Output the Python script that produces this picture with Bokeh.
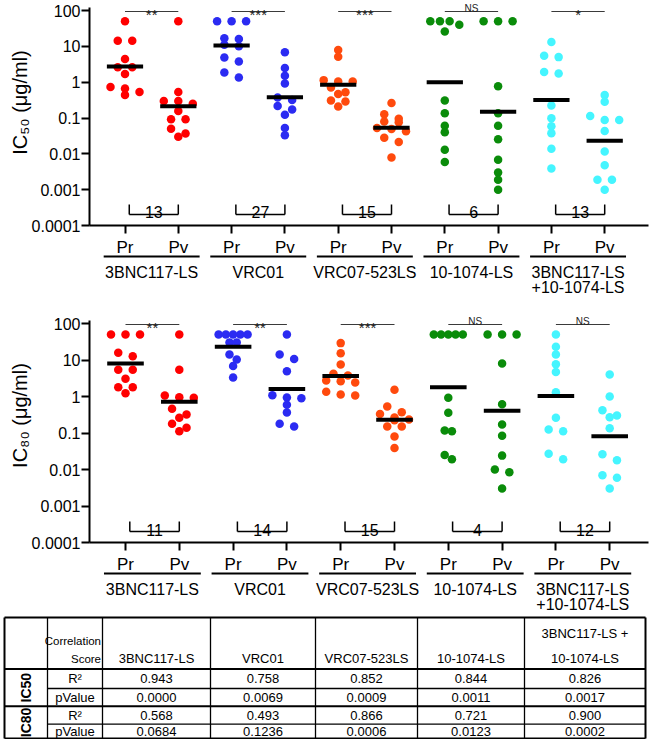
import math
from bokeh.plotting import figure
from bokeh.models import Range1d, FixedTicker, CustomJSTickFormatter
from bokeh.layouts import column
from bokeh.embed import file_html
from bokeh.resources import INLINE
from bokeh.core.properties import value

FONT = "Liberation Sans"

groups = ["3BNC117-LS", "VRC01", "VRC07-523LS", "10-1074-LS", "3BNC117-LS\n+10-1074-LS"]
subgroups = ["Pr", "Pv"]
group_colors = ["#FF0000", "#2B2BF2", "#FF4A0D", "#0A8C0A", "#45F5FF"]
y_ticks = [0.0001, 0.001, 0.01, 0.1, 1, 10, 100]

# ---------------- IC50 (ug/ml) ----------------
ic50_3bnc117_pr = [50, 14.4, 14.4, 4.4, 2.6, 2.6, 1.7, 0.73, 0.67, 0.53, 0.44]
ic50_3bnc117_pv = [50, 0.53, 0.30, 0.30, 0.25, 0.156, 0.092, 0.092, 0.050, 0.037, 0.030]
ic50_vrc01_pr = [50, 50, 50, 16.7, 16, 11.1, 10, 4.9, 3.8, 1.86, 1.35]
ic50_vrc01_pv = [6.8, 2.5, 1.5, 0.92, 0.375, 0.316, 0.215, 0.174, 0.124, 0.053, 0.033]
ic50_vrc07_pr = [7.9, 5.1, 1.14, 1.05, 1.05, 0.71, 0.52, 0.47, 0.31, 0.29, 0.21]
ic50_vrc07_pv = [0.261, 0.128, 0.096, 0.080, 0.076, 0.053, 0.049, 0.043, 0.028, 0.0215, 0.0079]
ic50_101074_pr = [50, 50, 50, 40, 26, 0.31, 0.135, 0.061, 0.040, 0.013, 0.0059]
ic50_101074_pv = [50, 50, 50, 0.77, 0.135, 0.061, 0.0255, 0.0068, 0.003, 0.0019, 0.001]
ic50_combo_pr = [13.2, 5.5, 5.0, 1.93, 1.74, 0.225, 0.098, 0.059, 0.0375, 0.0138, 0.0039]
ic50_combo_pv = [0.435, 0.284, 0.114, 0.088, 0.088, 0.0435, 0.0117, 0.0048, 0.0019, 0.0019, 0.001]
ic50_sig = ["**", "***", "***", "NS", "*"]
ic50_score = [13, 27, 15, 6, 13]

# ---------------- IC80 (ug/ml) ----------------
ic80_3bnc117_pr = [50, 50, 50, 15.7, 12.7, 5.4, 5.4, 3.05, 1.8, 1.8, 1.23]
ic80_3bnc117_pv = [50, 5.4, 1.06, 0.96, 0.92, 0.46, 0.32, 0.26, 0.178, 0.139, 0.112]
ic80_vrc01_pr = [50, 50, 50, 50, 50, 30, 30, 14.1, 10.3, 6.8, 3.3]
ic80_vrc01_pv = [50, 14.1, 10.6, 4.9, 1.08, 0.94, 0.90, 0.59, 0.365, 0.178, 0.151]
ic80_vrc07_pr = [29, 15.3, 7.5, 4.2, 3.76, 2.74, 2.63, 2.42, 1.35, 1.13, 1.07]
ic80_vrc07_pv = [1.53, 0.53, 0.37, 0.33, 0.266, 0.234, 0.224, 0.151, 0.151, 0.080, 0.039]
ic80_101074_pr = [50, 50, 50, 50, 50, 0.92, 0.357, 0.117, 0.112, 0.025, 0.019]
ic80_101074_pv = [50, 50, 50, 8.0, 0.615, 0.171, 0.084, 0.024, 0.010, 0.0084, 0.0030]
ic80_combo_pr = [50, 23, 14.1, 7.7, 4.7, 1.31, 0.26, 0.125, 0.112, 0.027, 0.019]
ic80_combo_pv = [4.0, 1.0, 0.42, 0.30, 0.27, 0.135, 0.026, 0.018, 0.0070, 0.0059, 0.0030]
ic80_sig = ["**", "**", "***", "NS", "NS"]
ic80_score = [11, 14, 15, 4, 12]

# ---------------- correlation table ----------------
table_cols = ["3BNC117-LS", "VRC01", "VRC07-523LS", "10-1074-LS", "3BNC117-LS +\n10-1074-LS"]
ic50_r2 = [0.943, 0.758, 0.852, 0.844, 0.826]
ic50_p = ["0.0000", "0.0069", "0.0009", "0.0011", "0.0017"]
ic80_r2 = [0.568, 0.493, 0.866, 0.721, 0.900]
ic80_p = ["0.0684", "0.1236", "0.0006", "0.0123", "0.0002"]

ic50_data = [[ic50_3bnc117_pr, ic50_3bnc117_pv], [ic50_vrc01_pr, ic50_vrc01_pv],
             [ic50_vrc07_pr, ic50_vrc07_pv], [ic50_101074_pr, ic50_101074_pv],
             [ic50_combo_pr, ic50_combo_pv]]
ic80_data = [[ic80_3bnc117_pr, ic80_3bnc117_pv], [ic80_vrc01_pr, ic80_vrc01_pv],
             [ic80_vrc07_pr, ic80_vrc07_pv], [ic80_101074_pr, ic80_101074_pv],
             [ic80_combo_pr, ic80_combo_pv]]

W = 650
FRAME_L, FRAME_R = 89, 648


def swarm_offsets(vals, dec_px, thr=6.0, step=14.5, max_w=29.0):
    n = len(vals)
    ys = [math.log10(v) * dec_px for v in vals]
    order = sorted(range(n), key=lambda i: -vals[i])
    rows = []
    for i in order:
        if rows and ys[rows[-1][0]] - ys[i] < thr:
            rows[-1].append(i)
        else:
            rows.append([i])
    nmax = max(len(r) for r in rows)
    sp = step if nmax < 2 else min(step, max_w / (nmax - 1))
    offs = [0.0] * n
    for r in rows:
        m = len(r)
        for j, i in enumerate(r):
            offs[i] = (j - (m - 1) / 2) * sp
    return offs


def make_panel(data, sig, score, ylabel, x0, ux, y100, dec, fig_top, H, sig_py):
    axis_py = y100 + 6 * dec
    frame_top = fig_top + 7

    def X(px):
        return (px - x0) / ux

    def Y(py):
        return 10 ** (2 - (py - y100) / dec)

    p = figure(width=W, height=H, title=None,
               x_range=Range1d(X(FRAME_L), X(FRAME_R)),
               y_range=Range1d(1e-4, Y(frame_top)),
               y_axis_type="log", output_backend="svg", toolbar_location=None,
               min_border_left=FRAME_L, min_border_right=W - FRAME_R, min_border_top=7,
               min_border_bottom=int(round(fig_top + H - axis_py)))
    p.outline_line_color = None
    p.grid.visible = False
    p.background_fill_color = "white"
    p.border_fill_color = "white"

    ya = p.yaxis[0]
    ya.ticker = FixedTicker(ticks=y_ticks)
    ya.formatter = CustomJSTickFormatter(code="""
        const e = Math.round(Math.log10(tick));
        if (e >= 0) return String(Math.pow(10, e));
        return "0." + "0".repeat(-e - 1) + "1";
    """)
    ya.minor_tick_line_color = None
    ya.major_tick_out = 8
    ya.major_tick_in = 0
    ya.axis_line_width = 2
    ya.major_tick_line_width = 2
    ya.major_label_text_font = FONT
    ya.major_label_text_font_size = "16px"
    ya.major_label_text_color = "black"
    ya.major_label_standoff = 1

    xa = p.xaxis[0]
    ntick = 2 * len(groups)
    xa.ticker = FixedTicker(ticks=list(range(ntick)))
    xa.major_label_overrides = {k: subgroups[k % 2] for k in range(ntick)}
    xa.minor_tick_line_color = None
    xa.major_tick_out = 8
    xa.major_tick_in = 0
    xa.axis_line_width = 2
    xa.major_tick_line_width = 2
    xa.major_label_text_font = FONT
    xa.major_label_text_font_size = "17px"
    xa.major_label_text_color = "black"
    xa.major_label_standoff = 4

    for gi, pair in enumerate(data):
        c = group_colors[gi]
        for si, vals in enumerate(pair):
            k = 2 * gi + si
            offs = swarm_offsets(vals, dec)
            xs = [k + o / ux for o in offs]
            p.scatter(x=xs, y=vals, size=8.5, fill_color=c, line_color=None)
            gm = 10 ** (sum(math.log10(v) for v in vals) / len(vals))
            p.segment(x0=[k - 0.34], y0=[gm], x1=[k + 0.34], y1=[gm],
                      line_width=4, line_color="black")
        # significance bar
        ys = Y(sig_py)
        p.segment(x0=[2 * gi], y0=[ys], x1=[2 * gi + 1], y1=[ys],
                  line_width=1.2, line_color="#3a3a3a", level="overlay")
        is_star = "*" in sig[gi]
        p.text(x=[2 * gi + 0.5], y=[ys], text=[sig[gi]],
               text_font=value(FONT),
               text_font_size="15px" if is_star else "10px",
               text_align="center", text_baseline="alphabetic",
               y_offset=3 if is_star else -2.7, text_color="#222222", level="overlay")
        # bracket with number
        yb = Y(axis_py - 11)
        yt = Y(axis_py - 21)
        xl, xr = 2 * gi + 0.08, 2 * gi + 1
        p.segment(x0=[xl, xl, xr], y0=[yb, yb, yb], x1=[xr, xl, xr], y1=[yb, yt, yt],
                  line_width=1.5, line_color="black")
        p.text(x=[(xl + xr) / 2], y=[Y(axis_py - 13)], text=[str(score[gi])],
               text_font=value(FONT), text_font_size="16px",
               text_align="center", text_baseline="alphabetic", text_color="black")
        # group underline & name (below axis)
        yu = Y(axis_py + 31)
        p.segment(x0=[2 * gi - 0.4], y0=[yu], x1=[2 * gi + 1.4], y1=[yu],
                  line_width=2, line_color="black", level="overlay")
        for li, line in enumerate(groups[gi].split("\n")):
            p.text(x=[2 * gi + 0.5], y=[Y(axis_py + 47 + 15 * li)], text=[line],
                   text_font=value(FONT), text_font_size="16px",
                   text_align="center", text_baseline="middle", text_color="black",
                   level="overlay")

    # y axis label
    p.text(x=[X(19)], y=[Y(y100 + 92)], text=[ylabel], angle=math.pi / 2,
           text_font=value(FONT), text_font_size="20px",
           text_align="center", text_baseline="middle", text_color="black",
           level="overlay")
    return p


p1 = make_panel(ic50_data, ic50_sig, ic50_score, "IC\u2085\u2080 (\u03bcg/ml)",
                x0=124.5, ux=53.3, y100=10, dec=35.83, fig_top=0, H=313, sig_py=11)
p2 = make_panel(ic80_data, ic80_sig, ic80_score, "IC\u2088\u2080 (\u03bcg/ml)",
                x0=125, ux=53.8, y100=323, dec=36.5, fig_top=313, H=299, sig_py=324)

# ---------------- table (page-pixel coordinates, drawn on the overlay level) ----------------
TH = 127
t = figure(width=W, height=TH, title=None,
           x_range=Range1d(FRAME_L, FRAME_R), y_range=Range1d(TH, 0),
           x_axis_location=None, y_axis_location=None,
           output_backend="svg", toolbar_location=None,
           min_border_left=FRAME_L, min_border_right=W - FRAME_R,
           min_border_top=0, min_border_bottom=0)
t.grid.visible = False
t.outline_line_color = None

tx = [4, 47, 102, 210, 315, 417, 524, 645]
ty = [5, 56.5, 76, 93.8, 111.6, 126]
OV = dict(level="overlay")

# vertical lines
t.segment(x0=tx[1:-1], y0=[ty[0]] * (len(tx) - 2), x1=tx[1:-1], y1=[ty[-1]] * (len(tx) - 2),
          line_width=1.3, line_color="black", **OV)
t.segment(x0=[tx[0], tx[-1]], y0=[ty[0]] * 2, x1=[tx[0], tx[-1]], y1=[ty[-1]] * 2,
          line_width=2, line_color="black", **OV)
# horizontal lines
t.segment(x0=[tx[0]] * 4, y0=[ty[0], ty[1], ty[3], ty[5]], x1=[tx[-1]] * 4,
          y1=[ty[0], ty[1], ty[3], ty[5]], line_width=2, line_color="black", **OV)
t.segment(x0=[tx[1]] * 2, y0=[ty[2], ty[4]], x1=[tx[-1]] * 2, y1=[ty[2], ty[4]],
          line_width=1.3, line_color="black", **OV)

common = dict(text_font=value(FONT), text_color="black", text_baseline="middle", **OV)
t.text(x=[tx[2] - 1.5] * 2, y=[28, 46], text=["Correlation", "Score"],
       text_font_size="11.5px", text_align="right", **common)
for ci, name in enumerate(table_cols):
    cx = (tx[ci + 2] + tx[ci + 3]) / 2
    lines = name.split("\n")
    ly = [46] if len(lines) == 1 else [21, 46]
    t.text(x=[cx] * len(lines), y=ly, text=lines, text_font_size="13px",
           text_align="center", **common)

row_y = [(ty[i] + ty[i + 1]) / 2 for i in range(1, 5)]
c2 = (tx[1] + tx[2]) / 2
t.text(x=[c2] * 4, y=row_y, text=["R\u00b2", "pValue", "R\u00b2", "pValue"],
       text_font_size="13px", text_align="center", **common)
for ci in range(len(table_cols)):
    cx = (tx[ci + 2] + tx[ci + 3]) / 2
    vals = ["%.3f" % ic50_r2[ci], ic50_p[ci], "%.3f" % ic80_r2[ci], ic80_p[ci]]
    t.text(x=[cx] * 4, y=row_y, text=vals, text_font_size="13px",
           text_align="center", **common)
c1 = (tx[0] + tx[1]) / 2
t.text(x=[c1, c1], y=[(ty[1] + ty[3]) / 2, (ty[3] + ty[5]) / 2], text=["IC50", "IC80"],
       angle=math.pi / 2, text_font_size="14px", text_font_style="bold",
       text_align="center", **common)

layout = column(p1, p2, t, spacing=0)
open("out.html", "w").write(file_html(layout, INLINE))
